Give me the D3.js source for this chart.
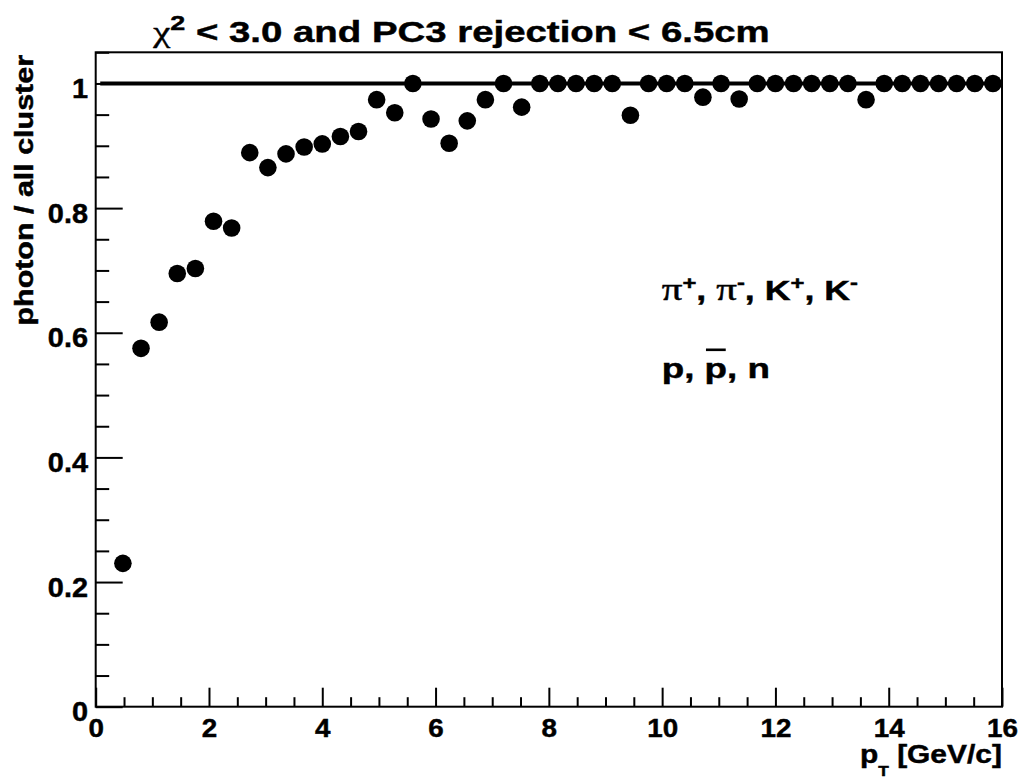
<!DOCTYPE html>
<html>
<head>
<meta charset="utf-8">
<script src="https://cdn.jsdelivr.net/npm/d3@7"></script>
<style>
  html, body { margin: 0; padding: 0; background: #ffffff; }
  svg { display: block; }
  text { stroke: #000; stroke-width: 0.45px; paint-order: stroke; }
</style>
</head>
<body>
<svg id="chart" width="1020" height="780"></svg>
<script>
// ---------------- data ----------------
const ptCenters = [0.48, 0.80, 1.12, 1.44, 1.76, 2.08, 2.40, 2.72, 3.04, 3.36,
                   3.68, 4.00, 4.32, 4.64, 4.96, 5.28, 5.60, 5.92, 6.24, 6.56,
                   6.88, 7.20, 7.52, 7.84, 8.16, 8.48, 8.80, 9.12, 9.44, 9.76,
                   10.08, 10.40, 10.72, 11.04, 11.36, 11.68, 12.00, 12.32, 12.64, 12.96,
                   13.28, 13.60, 13.92, 14.24, 14.56, 14.88, 15.20, 15.52, 15.84];
const photonRatio = [0.230, 0.575, 0.617, 0.695, 0.703, 0.779, 0.768, 0.889, 0.865, 0.887,
                     0.898, 0.903, 0.915, 0.923, 0.974, 0.953, 1.000, 0.943, 0.904, 0.940,
                     0.974, 1.000, 0.962, 1.000, 1.000, 1.000, 1.000, 1.000, 0.949, 1.000,
                     1.000, 1.000, 0.978, 1.000, 0.975, 1.000, 1.000, 1.000, 1.000, 1.000,
                     1.000, 0.974, 1.000, 1.000, 1.000, 1.000, 1.000, 1.000, 1.000];
const refLineX = [0.08, 16];
const refLineY = 1;
const xDomain = [0, 16];
const yDomain = [0, 1.05];
const xMajorTicks = [0, 2, 4, 6, 8, 10, 12, 14, 16];
const xTickLabels = ["0", "2", "4", "6", "8", "10", "12", "14", "16"];
const yMajorTicks = [0, 0.2, 0.4, 0.6, 0.8, 1.0];
const yTickLabels = ["0", "0.2", "0.4", "0.6", "0.8", "1"];
const xMinorTicks = d3.range(0, 16.001, 0.5).filter(v => Math.abs(v / 2 - Math.round(v / 2)) > 1e-6);
const yMinorTicks = d3.range(0, 1.0501, 0.05).filter(v => Math.abs(v / 0.2 - Math.round(v / 0.2)) > 1e-6);

// ---------------- layout ----------------
const L = 95.7, R = 1002, T = 52.3, B = 706.7;
const SANS = "'Liberation Sans', Arial, Helvetica, sans-serif";
const SERIF = "'Liberation Serif', 'Times New Roman', serif";

const svg = d3.select("#chart");
const x = d3.scaleLinear().domain(xDomain).range([L, R]);
const y = d3.scaleLinear().domain(yDomain).range([B, T]);

// reference line at 1
svg.append("line")
  .attr("x1", x(refLineX[0])).attr("x2", x(refLineX[1]))
  .attr("y1", y(refLineY)).attr("y2", y(refLineY))
  .attr("stroke", "#000").attr("stroke-width", 4);

// markers
svg.append("g").selectAll("circle")
  .data(ptCenters.map((p, i) => [p, photonRatio[i]]))
  .join("circle")
  .attr("cx", d => x(d[0])).attr("cy", d => y(d[1]))
  .attr("r", 8.8).attr("fill", "#000");

// frame
svg.append("rect")
  .attr("x", L).attr("y", T).attr("width", R - L).attr("height", B - T)
  .attr("fill", "none").attr("stroke", "#000").attr("stroke-width", 2);

// axes
const yMajAxis = svg.append("g").attr("transform", `translate(${L},0)`)
  .call(d3.axisLeft(y).tickValues(yMajorTicks).tickSize(-27).tickPadding(7.7)
        .tickFormat((d, i) => yTickLabels[i]));
const yMinAxis = svg.append("g").attr("transform", `translate(${L},0)`)
  .call(d3.axisLeft(y).tickValues(yMinorTicks).tickSize(-13.5).tickFormat(""));
const xMajAxis = svg.append("g").attr("transform", `translate(0,${B})`)
  .call(d3.axisBottom(x).tickValues(xMajorTicks).tickSize(-19)
        .tickFormat((d, i) => xTickLabels[i]));
const xMinAxis = svg.append("g").attr("transform", `translate(0,${B})`)
  .call(d3.axisBottom(x).tickValues(xMinorTicks).tickSize(-9.5).tickFormat(""));

[yMajAxis, yMinAxis, xMajAxis, xMinAxis].forEach(g => {
  g.select(".domain").remove();
  g.selectAll(".tick line").attr("stroke", "#000").attr("stroke-width", 2);
});
yMajAxis.selectAll(".tick text")
  .attr("font-family", SANS).attr("font-weight", "bold").attr("font-size", 27)
  .attr("fill", "#000").attr("x", -7.7 / 1.07).attr("dy", 14.2)
  .attr("transform", "scale(1.07,1)");
xMajAxis.selectAll(".tick text")
  .attr("font-family", SANS).attr("font-weight", "bold").attr("font-size", 26)
  .attr("fill", "#000").attr("y", 30).attr("dy", 0)
  .attr("transform", "scale(1.07,1)");
xMajAxis.selectAll(".tick text").attr("x", 0);

// helper: fit a text group horizontally into [x0, x1] at baseline yb
function fitGroup(g, text, x0, x1, yb) {
  const bb = text.node().getBBox();
  const sx = (x1 - x0) / bb.width;
  g.attr("transform", `translate(${x0 - bb.x * sx},${yb}) scale(${sx},1)`);
}

// title
{
  const g = svg.append("g");
  const t = g.append("text").attr("font-family", SANS).attr("font-weight", "bold")
    .attr("font-size", 30).attr("fill", "#000");
  t.append("tspan").attr("font-family", SERIF).attr("font-weight", "normal").text("χ");
  t.append("tspan").attr("font-size", 21).attr("dy", -12).text("2");
  t.append("tspan").attr("dy", 12).text(" < 3.0 and PC3 rejection < 6.5cm");
  fitGroup(g, t, 152, 770, 42.3);
}

// y axis title (rotated, right-adjusted at top)
{
  const g = svg.append("g");
  const t = g.append("text").attr("font-family", SANS).attr("font-weight", "bold")
    .attr("font-size", 25).attr("fill", "#000").attr("text-anchor", "end")
    .text("photon / all cluster");
  const bb = t.node().getBBox();
  const s = 271 / bb.width;
  g.attr("transform", `translate(33,55) rotate(-90) scale(${s},1)`);
}

// x axis title
{
  const g = svg.append("g");
  const t = g.append("text").attr("font-family", SANS).attr("font-weight", "bold")
    .attr("font-size", 26).attr("fill", "#000");
  t.append("tspan").text("p");
  t.append("tspan").attr("font-size", 15).attr("dy", 13).text("T");
  t.append("tspan").attr("dy", -13).text(" [GeV/c]");
  fitGroup(g, t, 860, 1002, 763.3);
}

// annotation 1
{
  const g = svg.append("g");
  const t = g.append("text").attr("font-family", SANS).attr("font-weight", "bold")
    .attr("font-size", 27).attr("fill", "#000");
  const parts = [["π", "+"], ["π", "-"], ["K", "+"], ["K", "-"]];
  parts.forEach((p, i) => {
    const base = t.append("tspan").attr("y", 0).text(p[0]);
    if (p[0] === "π") base.attr("font-family", SERIF).attr("font-weight", "normal").attr("font-size", 31);
    t.append("tspan").attr("font-size", 18).attr("y", -11).text(p[1]);
    if (i < parts.length - 1) t.append("tspan").attr("y", 0).text(", ");
  });
  fitGroup(g, t, 661.7, 858, 300);
}

// annotation 2
{
  const g = svg.append("g");
  const t = g.append("text").attr("font-family", SANS).attr("font-weight", "bold")
    .attr("font-size", 27).attr("fill", "#000").text("p, p, n");
  const ext = t.node().getExtentOfChar(3);
  g.append("line")
    .attr("x1", ext.x + 1).attr("x2", ext.x + ext.width - 1)
    .attr("y1", -28.5).attr("y2", -28.5)
    .attr("stroke", "#000").attr("stroke-width", 2.6);
  fitGroup(g, t, 661.7, 770, 378.3);
}
</script>
</body>
</html>
